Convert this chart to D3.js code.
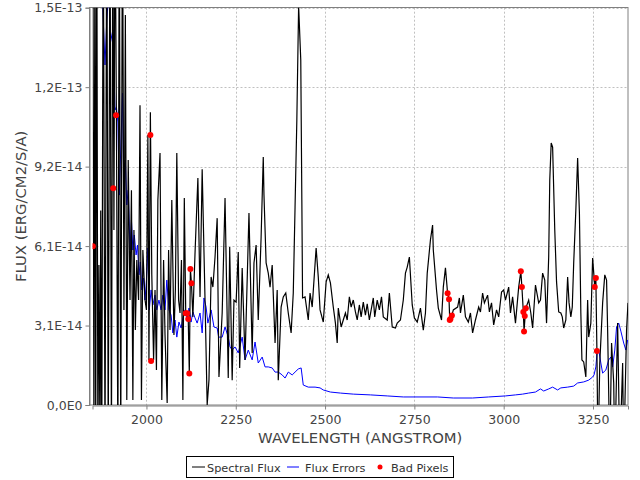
<!DOCTYPE html>
<html><head><meta charset="utf-8">
<script src="https://cdn.jsdelivr.net/npm/d3@7/dist/d3.min.js"></script>
<style>
html,body{margin:0;padding:0;background:#fff;}
svg{display:block;font-family:"DejaVu Sans",sans-serif;}
</style></head>
<body><svg id="c" width="640" height="480"></svg>
<script>
// Units: flux in 1E-14 erg/cm2/s/A, wavelength in Angstrom
const fluxSpectrum = [[1850,20],[1853,-2],[1856,20],[1858,-2],[1861,20],[1864,-2],[1867,5.4],[1870,-2],[1872,7.5],[1875,-2],[1879,20],[1884,-2],[1889,20],[1893,-2],[1898,20],[1902,-2],[1906,20],[1909,6.75],[1912,20],[1916,11.0],[1920,-2],[1924,20],[1928,-2],[1933,20],[1937,3.67],[1941,15.05],[1945,0.19],[1949,9.45],[1954,4.05],[1958,8.29],[1962,0.19],[1965,6.75],[1969,2.89],[1973,5.59],[1978,4.05],[1982,11.57],[1986,0.19],[1990,5.98],[1996,4.05],[2000,3.67],[2004,10.42],[2007,1.74],[2011,11.3],[2015,5.02],[2020,1.74],[2024,4.44],[2028,1.35],[2032,7.91],[2038,9.72],[2043,0.19],[2048,5.59],[2052,2.7],[2058,0.08],[2062,5.98],[2066,2.89],[2071,7.91],[2077,2.7],[2081,4.44],[2085,9.72],[2090,4.05],[2094,3.55],[2098,5.59],[2102,0.19],[2106,7.99],[2110,3.55],[2114,3.55],[2117,3.32],[2120,1.22],[2123,5.25],[2126,4.7],[2130,3.4],[2136,5.86],[2144,8.76],[2150,4.17],[2156,9.1],[2164,4.05],[2170,0],[2175,0.96],[2181,4.94],[2186,4.55],[2192,5.71],[2198,7.21],[2203,1.08],[2212,3.55],[2220,7.99],[2229,1.04],[2233,6.1],[2240,0.96],[2245,4.05],[2251,3.97],[2257,5.9],[2261,1.43],[2268,5.29],[2276,1.74],[2287,7.41],[2296,2.01],[2301,5.48],[2307,6.17],[2313,3.28],[2321,6.48],[2327,9.57],[2329,8.1],[2335,5.48],[2341,5.09],[2346,4.55],[2352,5.4],[2360,2.39],[2366,4.44],[2369,0.96],[2377,3.78],[2383,4.17],[2390,4.32],[2397,3.55],[2405,2.78],[2411,4.32],[2416,7.64],[2421,11.0],[2426,15.4],[2432,13.31],[2435,7.91],[2437,4.13],[2444,4.17],[2453,3.28],[2458,4.32],[2464,3.78],[2475,6.06],[2481,4.94],[2486,3.67],[2495,3.2],[2503,4.75],[2509,5.02],[2515,4.71],[2523,3.78],[2529,3.16],[2534,2.39],[2537,3.74],[2545,3.01],[2551,3.28],[2557,3.55],[2562,3.28],[2568,4.17],[2573,3.78],[2579,4.05],[2585,3.59],[2590,3.28],[2596,3.86],[2601,3.4],[2607,3.97],[2613,3.47],[2618,3.9],[2624,3.28],[2635,4.13],[2639,3.4],[2646,4.05],[2652,3.67],[2658,4.17],[2663,3.4],[2674,3.28],[2680,4.32],[2688,3.01],[2697,2.97],[2702,3.16],[2711,3.28],[2719,4.05],[2725,5.09],[2730,5.32],[2736,5.71],[2744,3.86],[2750,3.36],[2758,3.2],[2767,3.74],[2775,2.89],[2781,3.55],[2786,5.09],[2795,6.37],[2801,6.94],[2803,5.98],[2812,4.44],[2817,3.74],[2826,3.28],[2831,4.55],[2837,5.29],[2843,4.31],[2847,4.08],[2849,3.28],[2855,3.45],[2859,3.67],[2871,3.78],[2876,4.13],[2879,3.55],[2887,4.24],[2893,3.4],[2901,3.2],[2907,3.55],[2913,2.78],[2921,3.28],[2930,3.78],[2935,3.59],[2941,4.32],[2946,3.94],[2955,4.24],[2960,3.59],[2966,3.94],[2972,3.09],[2980,3.67],[2986,3.4],[2994,4.36],[3000,4.44],[3005,4.05],[3014,4.55],[3019,3.55],[3025,4.17],[3033,3.16],[3042,4.55],[3048,5.16],[3051,4.55],[3055,3.59],[3057,2.85],[3060,3.43],[3062,3.74],[3070,4.05],[3076,3.55],[3081,2.97],[3089,4.63],[3098,3.94],[3103,4.05],[3109,5.09],[3115,4.82],[3120,3.16],[3126,5.71],[3129,8.68],[3133,10.11],[3137,9.95],[3143,6.75],[3148,4.75],[3154,3.59],[3160,3.55],[3164,3.4],[3168,2.97],[3174,3.28],[3179,4.94],[3183,3.94],[3188,3.4],[3192,3.78],[3196,5.48],[3202,7.52],[3207,9.53],[3212,7.41],[3216,3.55],[3219,1.74],[3224,1.66],[3230,1.08],[3235,4.05],[3238,2.62],[3244,3.16],[3249,5.67],[3255,4.55],[3258,4.9],[3261,2.08],[3264,-2],[3269,1.62],[3277,3.94],[3283,5.02],[3288,4.82],[3291,2.89],[3297,-2],[3302,2.39],[3308,0.85],[3311,-2],[3319,3.16],[3325,-2],[3333,1.62],[3336,-2],[3344,2.89],[3348,3.94]];

const fluxErrors = [[1850,25],[1870,22],[1878,15.24],[1884,13.12],[1889,14.85],[1895,16],[1899,13.97],[1906,14.47],[1912,11.38],[1916,11.5],[1920,10.92],[1924,8.1],[1928,9.84],[1933,12.04],[1937,7.91],[1941,9.45],[1945,7.72],[1949,8.29],[1954,5.98],[1958,7.14],[1962,5.98],[1966,6.56],[1971,5.79],[1975,6.17],[1979,5.02],[1983,5.52],[1987,4.44],[1992,4.9],[1996,4.05],[2000,4.82],[2004,6.06],[2008,3.67],[2013,4.44],[2018,3.86],[2024,4.24],[2029,3.67],[2035,4.05],[2041,3.67],[2046,4.24],[2052,3.67],[2057,4.82],[2063,3.67],[2069,3.47],[2074,2.78],[2080,3.28],[2085,2.62],[2091,3.2],[2097,2.97],[2102,3.36],[2108,3.67],[2114,3.28],[2119,3.74],[2125,3.2],[2130,3.59],[2136,3.36],[2142,3.16],[2150,3.55],[2156,2.78],[2161,4.13],[2167,3.78],[2172,3.16],[2181,3.67],[2189,3.01],[2198,2.97],[2202,2.62],[2212,2.62],[2220,3.01],[2229,2.62],[2234,2.24],[2240,2.12],[2248,2.24],[2257,2.01],[2268,2.62],[2276,1.74],[2285,2.12],[2296,1.74],[2304,2.43],[2313,1.62],[2324,1.85],[2332,1.47],[2341,1.47],[2352,1.43],[2360,1.27],[2369,1.27],[2380,1.16],[2388,1.04],[2397,1.27],[2408,1.16],[2416,1.27],[2425,1.39],[2433,1.43],[2439,0.77],[2453,0.69],[2472,0.69],[2486,0.66],[2495,0.58],[2515,0.5],[2543,0.46],[2579,0.42],[2627,0.39],[2674,0.35],[2719,0.31],[2815,0.31],[2859,0.27],[2913,0.27],[2958,0.31],[3005,0.35],[3033,0.39],[3053,0.42],[3070,0.46],[3089,0.5],[3103,0.62],[3112,0.54],[3126,0.62],[3137,0.69],[3151,0.58],[3160,0.66],[3179,0.69],[3196,0.73],[3207,0.85],[3224,0.89],[3238,0.96],[3249,1.08],[3253,1.16],[3258,1.47],[3262,2.12],[3266,2.12],[3272,1.62],[3277,1.23],[3286,1.35],[3294,1.74],[3300,1.85],[3305,1.47],[3311,2.12],[3316,3.01],[3322,3.16],[3328,2.85],[3336,2.39],[3342,2.12],[3347,2.51]];

const badPixels = [[1850,6.13],[1907,8.36],[1915,11.18],[2011,10.42],[2013,1.7],[2110,3.54],[2114,3.54],[2117,3.32],[2120,1.22],[2123,5.25],[2126,4.7],[2843,4.31],[2847,4.08],[2849,3.28],[2851,3.32],[2855,3.45],[3048,5.16],[3051,4.55],[3055,3.59],[3057,2.84],[3059,3.43],[3062,3.73],[3255,4.55],[3258,4.9],[3261,2.08]];

const xTickValues = [2000,2250,2500,2750,3000,3250];
const yTickValues = [0,3.066,6.132,9.198,12.264,15.33];
const yTickLabels = ["0,0E0","3,1E-14","6,1E-14","9,2E-14","1,2E-13","1,5E-13"];
const legendLabels = ["Spectral Flux","Flux Errors","Bad Pixels"];

const L=92.5, R=628, T=7.7, B=405;
const svg=d3.select("#c");
const x=d3.scaleLinear().domain([1849,3348]).range([L,R]);
const y=d3.scaleLinear().domain([0,15.33]).range([B,T]);

svg.append("defs").append("clipPath").attr("id","clip")
  .append("rect").attr("x",L).attr("y",T).attr("width",R-L).attr("height",B-T);

// grid
const g=svg.append("g");
g.selectAll(".vg").data(xTickValues).enter().append("line")
  .attr("x1",d=>Math.round(x(d))+0.5).attr("x2",d=>Math.round(x(d))+0.5).attr("y1",T).attr("y2",B)
  .attr("stroke","#c0c0c0").attr("stroke-width",1).attr("stroke-dasharray","2,2");
g.selectAll(".hg").data(yTickValues.slice(1)).enter().append("line")
  .attr("y1",d=>Math.round(y(d))+0.5).attr("y2",d=>Math.round(y(d))+0.5).attr("x1",L).attr("x2",R)
  .attr("stroke","#c0c0c0").attr("stroke-width",1).attr("stroke-dasharray","2,2");

// border
svg.append("rect").attr("x",89.5).attr("y",7.5).attr("width",R-89.5).attr("height",B-7.5)
  .attr("fill","none").attr("stroke","#808080").attr("stroke-width",1);

const plot=svg.append("g").attr("clip-path","url(#clip)");
const line=d3.line().x(d=>x(d[0])).y(d=>y(d[1]));
plot.append("path").datum(fluxErrors).attr("d",line).attr("fill","none").attr("stroke","#0000ff").attr("stroke-width",1);
plot.append("path").datum(fluxSpectrum).attr("d",line).attr("fill","none").attr("stroke","#000").attr("stroke-width",1.2);
plot.selectAll("circle").data(badPixels).enter().append("circle")
  .attr("cx",d=>x(d[0])).attr("cy",d=>y(d[1])).attr("r",3).attr("fill","#ff0000");

// axes
const yAxis=d3.axisLeft(y).tickValues(yTickValues).tickFormat((d,i)=>yTickLabels[i]).tickSize(4).tickPadding(3);
const ya=svg.append("g").attr("transform","translate(89.5,0)").call(yAxis);
const xAxis=d3.axisBottom(x).tickValues(xTickValues).tickFormat(d3.format("d")).tickSize(4).tickPadding(6);
const xa=svg.append("g").attr("transform",`translate(0,${B+0.5})`).call(xAxis);
[ya,xa].forEach(a=>{
  a.select(".domain").attr("stroke","#808080");
  a.selectAll(".tick line").attr("stroke","#808080");
  a.selectAll("text").attr("fill","#444").style("font-size","12.5px").style("font-family","DejaVu Sans");
});

svg.append("text").attr("x",(L+R)/2).attr("y",443).attr("text-anchor","middle")
  .attr("fill","#444").style("font-size","14.8px").text("WAVELENGTH (ANGSTROM)");
svg.append("text").attr("transform",`translate(26,${(T+B)/2}) rotate(-90)`).attr("text-anchor","middle")
  .attr("fill","#444").style("font-size","14.8px").text("FLUX (ERG/CM2/S/A)");

// legend
const lg=svg.append("g");
lg.append("rect").attr("x",186.5).attr("y",456.5).attr("width",267).attr("height",21).attr("fill","#fff").attr("stroke","#000");
const ly=467;
lg.append("line").attr("x1",192).attr("x2",205).attr("y1",ly).attr("y2",ly).attr("stroke","#000");
lg.append("text").attr("x",207).attr("y",ly+4.5).text(legendLabels[0]);
lg.append("line").attr("x1",287).attr("x2",299).attr("y1",ly).attr("y2",ly).attr("stroke","#0000ff");
lg.append("text").attr("x",305).attr("y",ly+4.5).text(legendLabels[1]);
lg.append("circle").attr("cx",380).attr("cy",ly).attr("r",2.5).attr("fill","#ff0000");
lg.append("text").attr("x",391).attr("y",ly+4.5).text(legendLabels[2]);
lg.selectAll("text").attr("fill","#333").style("font-size","11.3px");
</script></body></html>
